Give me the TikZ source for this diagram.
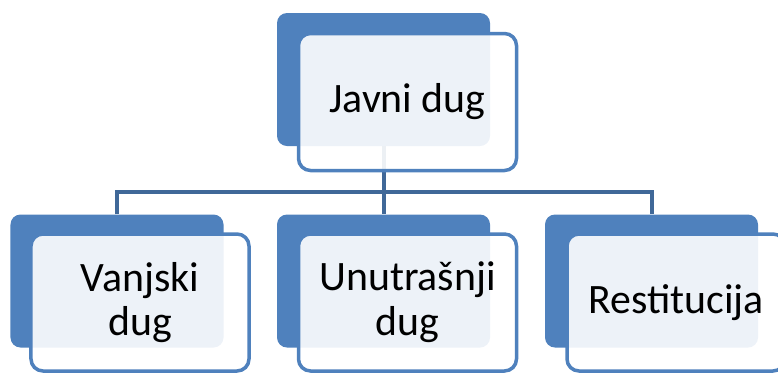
\documentclass[tikz,border=0pt]{standalone}
\usepackage{fontspec}
\setmainfont{Carlito}
\definecolor{boxblue}{RGB}{79,129,189}
\definecolor{linkblue}{RGB}{64,104,152}
\tikzset{
	backbox/.style = {fill = boxblue, rounded corners = 10bp, minimum width = 213bp, minimum height = 133bp},
	frontbox/.style = {draw = boxblue, line width = 3.5bp, fill = white, fill opacity = 0.9, text opacity = 1,
		rounded corners = 12bp, minimum width = 218bp, minimum height = 137bp,
		align = center, font = \fontsize{42}{45}\selectfont},
	link/.style = {draw = linkblue, line width = 4bp}
}
\begin{document}
\begin{tikzpicture}[x = 1bp, y = -1bp]
		\useasboundingbox (0,0) rectangle (778,372);
		
		\node[backbox] (topback) at (383.5,79.5) {};
		\node[backbox] (leftback) at (117,281) {};
		\node[backbox] (midback) at (383.5,281) {};
		\node[backbox] (rightback) at (651.5,281) {};
		
		\draw[link] (topback.south) -- (midback.north);
		\draw[link] (leftback.north) -- ++(0,-22.5) -| (rightback.north);
		
		\node[frontbox] (topfront) at (407.5,102) {Javni dug};
		\node[frontbox] (leftfront) at (140,302.5) {Vanjski\\dug};
		\node[frontbox] (midfront) at (407.5,302.5) {Unutrašnji\\dug};
		\node[frontbox] (rightfront) at (676,302.5) {Restitucija};
	\end{tikzpicture}
\end{document}
